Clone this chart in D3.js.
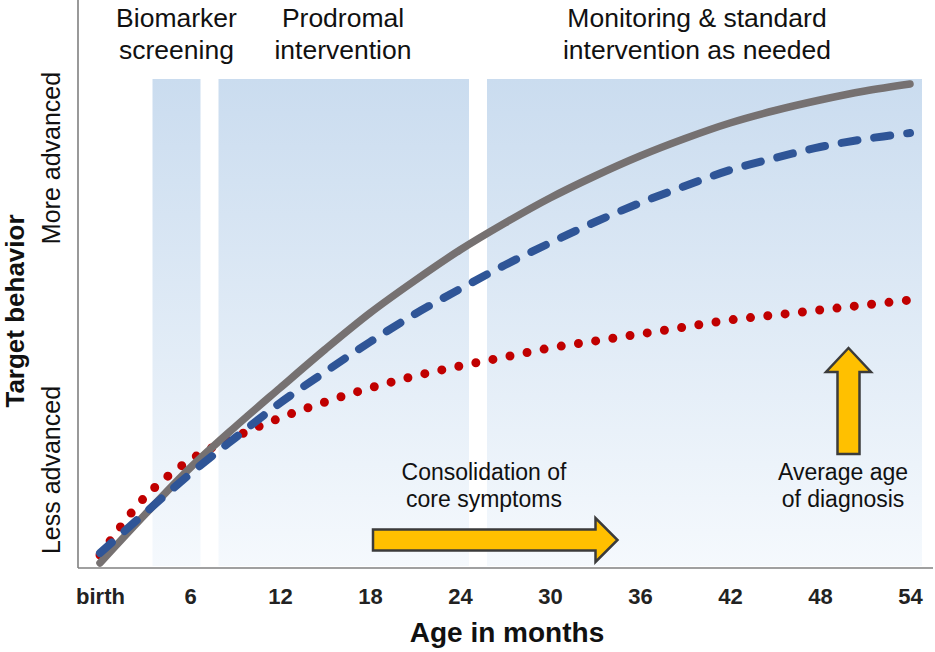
<!DOCTYPE html>
<html><head><meta charset="utf-8">
<script src="https://cdn.jsdelivr.net/npm/d3@7"></script>
<style>
body{margin:0;background:#fff}
svg{display:block}
text{font-family:"Liberation Sans",Arial,Helvetica,sans-serif}
</style>
</head><body>
<svg id="chart" width="935" height="652"></svg>
<script>
// ---- data ----
const months = [0,3,6,9,12,15,18,21,24,27,30,33,36,39,42,45,48,51,54];
const typicalDev = [1.0,10.7,20.0,28.2,36.0,43.7,51.0,57.5,63.6,69.0,74.0,78.4,82.4,85.9,89.0,91.5,93.6,95.4,96.8];
const withIntervention = [3.0,11.0,18.8,26.0,33.0,39.2,45.2,50.8,55.8,60.6,65.0,69.2,73.0,76.4,79.6,82.0,84.2,85.8,87.0];
const withoutIntervention = [2.6,14.2,21.6,26.2,30.0,33.2,36.0,38.4,40.4,42.2,44.0,45.4,46.8,48.2,49.6,50.6,51.6,52.6,53.6];
const tickMonths = [0,6,12,18,24,30,36,42,48,54];
const tickLabels = ["birth","6","12","18","24","30","36","42","48","54"];
const phaseStart = [3.5, 7.9, 25.8];
const phaseEnd = [6.7, 24.6, 54.8];
const phaseLabelAt = [5.1, 16.2, 39.8];
const phaseLabels = [["Biomarker","screening"],["Prodromal","intervention"],["Monitoring & standard","intervention as needed"]];
const consolidationFrom = 18.2, consolidationTo = 34.5, consolidationLevel = 5.6;
const diagnosisAge = 49.9, diagnosisFrom = 22.8, diagnosisTo = 44;

// ---- layout ----
const svg = d3.select("#chart");
const x = d3.scaleLinear().domain([0,54]).range([100,910]);
const y = d3.scaleLinear().domain([0,100]).range([568,68]);

const defs = svg.append("defs");
const grad = defs.append("linearGradient").attr("id","bandGrad")
  .attr("x1",0).attr("y1",0).attr("x2",0).attr("y2",1);
grad.append("stop").attr("offset","0%").attr("stop-color","#cadcef");
grad.append("stop").attr("offset","100%").attr("stop-color","#f5f9fd");

// bands
const bandTop = 79, bandBottom = 566;
svg.append("g").selectAll("rect").data(phaseStart).join("rect")
  .attr("x", d => x(d))
  .attr("width", (d,i) => x(phaseEnd[i]) - x(d))
  .attr("y", bandTop).attr("height", bandBottom - bandTop)
  .attr("fill","url(#bandGrad)");

// phase labels
phaseLabels.forEach((lines,i) => {
  const t = svg.append("text").attr("text-anchor","middle")
    .attr("font-size",26.5).attr("fill","#111");
  lines.forEach((l,j) => t.append("tspan").attr("x", x(phaseLabelAt[i])).attr("y", 27 + j*32).text(l));
});

// axes
const axisColor = "#808080";
const xAxis = d3.axisBottom(x).tickValues(tickMonths).tickSize(0).tickPadding(0)
  .tickFormat((d,i) => tickLabels[i]);
const gx = svg.append("g").attr("transform","translate(0,568)").call(xAxis);
gx.select(".domain").remove();
gx.selectAll("text").attr("font-size",22).attr("font-weight","bold").attr("fill","#222")
  .attr("dy",null).attr("y",36);
svg.append("line").attr("x1",78).attr("x2",933).attr("y1",568).attr("y2",568)
  .attr("stroke",axisColor).attr("stroke-width",1.6);
svg.append("line").attr("x1",78).attr("x2",78).attr("y1",0).attr("y2",568)
  .attr("stroke",axisColor).attr("stroke-width",1.6);

// axis titles
svg.append("text").attr("x",507).attr("y",642).attr("text-anchor","middle")
  .attr("font-size",28).attr("font-weight","bold").attr("fill","#111").text("Age in months");
svg.append("text").attr("transform","translate(23.5,311) rotate(-90)").attr("text-anchor","middle")
  .attr("font-size",26).attr("font-weight","bold").attr("fill","#111").text("Target behavior");
svg.append("text").attr("transform","translate(60,470) rotate(-90)").attr("text-anchor","middle")
  .attr("font-size",25).attr("fill","#111").text("Less advanced");
svg.append("text").attr("transform","translate(60,158) rotate(-90)").attr("text-anchor","middle")
  .attr("font-size",25).attr("fill","#111").text("More advanced");

// lines
const line = vals => d3.line().x((d,i) => x(months[i])).y(d => y(d)).curve(d3.curveCatmullRom.alpha(0.5))(vals);
svg.append("path").attr("d", line(withoutIntervention)).attr("fill","none")
  .attr("stroke","#c00000").attr("stroke-width",9).attr("stroke-linecap","round")
  .attr("stroke-dasharray","0,17.4");
svg.append("path").attr("d", line(typicalDev)).attr("fill","none")
  .attr("stroke","#767171").attr("stroke-width",7.5).attr("stroke-linecap","round");
svg.append("path").attr("d", line(withIntervention)).attr("fill","none")
  .attr("stroke","#2f5597").attr("stroke-width",8).attr("stroke-linecap","round")
  .attr("stroke-dasharray","16,17");

// annotation: consolidation arrow
{
  const x0 = x(consolidationFrom), x1 = x(consolidationTo), cy = y(consolidationLevel);
  const sh = 10.5, hh = 22, hl = 22;
  const pts = [[x0,cy-sh],[x1-hl,cy-sh],[x1-hl,cy-hh],[x1,cy],[x1-hl,cy+hh],[x1-hl,cy+sh],[x0,cy+sh]];
  svg.append("polygon").attr("points", pts.map(p=>p.join(",")).join(" "))
    .attr("fill","#ffc000").attr("stroke","#3b3b3b").attr("stroke-width",2.5).attr("stroke-linejoin","miter");
  const t = svg.append("text").attr("text-anchor","middle").attr("font-size",23).attr("fill","#111");
  t.append("tspan").attr("x",484).attr("y",480).text("Consolidation of");
  t.append("tspan").attr("x",484).attr("y",507).text("core symptoms");
}
// annotation: diagnosis arrow
{
  const cx = x(diagnosisAge), yb = y(diagnosisFrom), yt = y(diagnosisTo);
  const sw = 11, hw = 22.5, hl = 24;
  const pts = [[cx-sw,yb],[cx-sw,yt+hl],[cx-hw,yt+hl],[cx,yt],[cx+hw,yt+hl],[cx+sw,yt+hl],[cx+sw,yb]];
  svg.append("polygon").attr("points", pts.map(p=>p.join(",")).join(" "))
    .attr("fill","#ffc000").attr("stroke","#3b3b3b").attr("stroke-width",2.5).attr("stroke-linejoin","miter");
  const t = svg.append("text").attr("text-anchor","middle").attr("font-size",23).attr("fill","#111");
  t.append("tspan").attr("x",843).attr("y",480).text("Average age");
  t.append("tspan").attr("x",843).attr("y",507).text("of diagnosis");
}
</script>
</body></html>
